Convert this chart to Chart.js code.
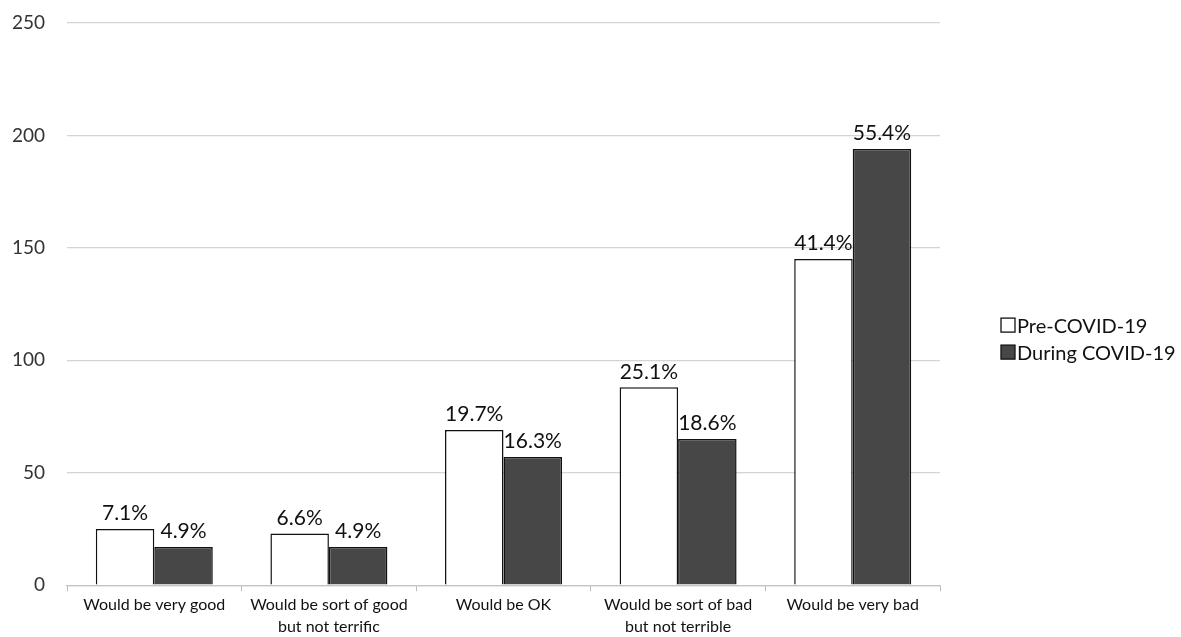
<!DOCTYPE html>
<html><head><meta charset="utf-8">
<script src="https://cdn.jsdelivr.net/npm/chart.js@4"></script>
<style>html,body{margin:0;padding:0;background:#fff}#w{width:1181px;height:637px}</style>
</head><body><div id="w"><canvas id="c"></canvas></div>
<script>
const categories = [["Would be very good"], ["Would be sort of good", "but not terrific"], ["Would be OK"], ["Would be sort of bad", "but not terrible"], ["Would be very bad"]];
const preValues = [25, 23, 69, 88, 145];
const duringValues = [17, 17, 57, 65, 194];
const preLabels = ["7.1%", "6.6%", "19.7%", "25.1%", "41.4%"];
const duringLabels = ["4.9%", "4.9%", "16.3%", "18.6%", "55.4%"];
const yTicks = [0, 50, 100, 150, 200, 250];

const FONT = "Lato, 'Open Sans', sans-serif";
const labelPlugin = {
  id: 'barLabels',
  afterDatasetsDraw(chart) {
    const ctx = chart.ctx;
    const sets = [preLabels, duringLabels];
    ctx.save();
    ctx.font = "21px " + FONT;
    ctx.fillStyle = "#111";
    ctx.textAlign = "center";
    ctx.textBaseline = "bottom";
    chart.data.datasets.forEach((ds, i) => {
      chart.getDatasetMeta(i).data.forEach((bar, j) => {
        ctx.fillText(sets[i][j], bar.x, bar.y - 5);
      });
    });
    ctx.restore();
  }
};
const legendPlugin = {
  id: 'sideLegend',
  afterDraw(chart) {
    const ctx = chart.ctx;
    const x0 = chart.chartArea.right + 61;
    const mid = (chart.chartArea.top + chart.chartArea.bottom) / 2;
    const yc = [mid + 21, mid + 48];
    ctx.save();
    ctx.font = "20px " + FONT;
    ctx.textBaseline = "middle";
    ctx.textAlign = "left";
    chart.data.datasets.forEach((ds, i) => {
      ctx.fillStyle = ds.backgroundColor;
      ctx.strokeStyle = '#111';
      ctx.lineWidth = 1.3;
      ctx.fillRect(x0, yc[i] - 7, 14, 14);
      ctx.strokeRect(x0, yc[i] - 7, 14, 14);
      ctx.fillStyle = '#111';
      ctx.fillText(ds.label, x0 + 16, yc[i] + 1);
    });
    ctx.restore();
  }
};

new Chart(document.getElementById('c'), {
  type: 'bar',
  data: {
    labels: categories,
    datasets: [
      { label: 'Pre-COVID-19', data: preValues, backgroundColor: '#ffffff', borderColor: '#111', borderWidth: 1.5 },
      { label: 'During COVID-19', data: duringValues, backgroundColor: '#474747', borderColor: '#111', borderWidth: 1.5 }
    ]
  },
  options: {
    responsive: true, maintainAspectRatio: false, animation: false,
    devicePixelRatio: 1,
    layout: { padding: { top: 0, right: 241, left: 0, bottom: 0 } },
    datasets: { bar: { categoryPercentage: 0.67, barPercentage: 1.0 } },
    plugins: {
      legend: { display: false },
      tooltip: { enabled: false }
    },
    scales: {
      y: {
        min: 0, max: 250,
        afterBuildTicks(axis) { axis.ticks = yTicks.map(v => ({ value: v })); },
        afterFit(axis) { axis.width = 67; axis.paddingTop = 23; axis.paddingBottom = 11; },
        ticks: { font: { family: FONT, size: 19 }, color: '#333', padding: 22 },
        grid: { color: '#d4d4d4', lineWidth: 1.2, drawTicks: false },
        border: { display: false }
      },
      x: {
        afterFit(axis) { axis.height = axis.height - 3; },
        ticks: { font: { family: FONT, size: 16, lineHeight: 1.4 }, color: '#111', padding: 2, maxRotation: 0, autoSkip: false },
        grid: { offset: true, drawOnChartArea: false, drawTicks: true, tickLength: 6, color: '#bbb' },
        border: { display: true, color: '#c4c4c4', width: 1.2 }
      }
    }
  },
  plugins: [labelPlugin, legendPlugin]
});
</script>
</body></html>
